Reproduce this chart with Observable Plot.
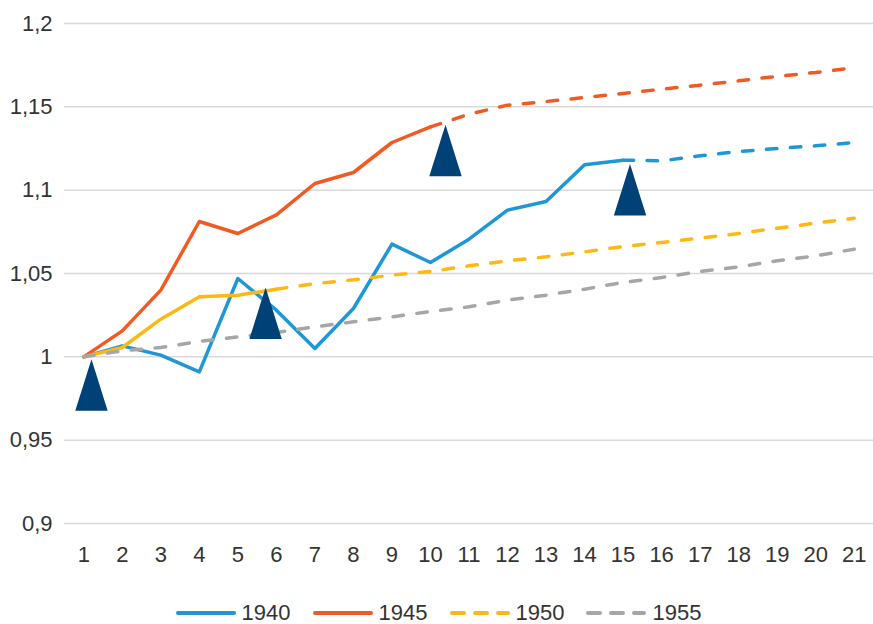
<!DOCTYPE html>
<html>
<head>
<meta charset="utf-8">
<script src="https://cdn.jsdelivr.net/npm/d3@7"></script>
<script src="https://cdn.jsdelivr.net/npm/@observablehq/plot@0.6"></script>
<style>
  html, body { margin: 0; padding: 0; background: #fff; }
  #chart { width: 873px; font-family: "Liberation Sans", Arial, sans-serif; }
  #legend { display: flex; justify-content: center; align-items: center; height: 24px; padding-top: 21px; padding-left: 4px;
            font-size: 22px; color: #333; line-height: 24px; }
  .item { display: flex; align-items: center; margin: 0 11px; }
  .item svg { margin-right: 6px; }
</style>
</head>
<body>
<div id="chart"></div>
<script>
const categories = [1, 2, 3, 4, 5, 6, 7, 8, 9, 10, 11, 12, 13, 14, 15, 16, 17, 18, 19, 20, 21];
const seriesNames = ["1940", "1945", "1950", "1955"];
const v1940 = [1.000, 1.0066, 1.001, 0.991, 1.047, 1.028, 1.005, 1.029, 1.0676, 1.0566, 1.0706, 1.088, 1.0932, 1.1152, 1.118, 1.1176, 1.1206, 1.1232, 1.125, 1.1266, 1.1286];
const v1945 = [1.000, 1.0156, 1.040, 1.0812, 1.074, 1.0852, 1.104, 1.1106, 1.1286, 1.138, 1.1456, 1.151, 1.1532, 1.1556, 1.158, 1.1606, 1.163, 1.1656, 1.1683, 1.1706, 1.1735];
const v1950 = [1.000, 1.0056, 1.0226, 1.036, 1.037, 1.0406, 1.044, 1.0462, 1.049, 1.0512, 1.0546, 1.0576, 1.060, 1.063, 1.0662, 1.0686, 1.0712, 1.074, 1.0772, 1.0802, 1.0832];
const v1955 = [1.000, 1.0036, 1.0056, 1.0092, 1.012, 1.0146, 1.018, 1.021, 1.024, 1.0272, 1.030, 1.034, 1.037, 1.0406, 1.0446, 1.0476, 1.0512, 1.054, 1.0576, 1.0606, 1.0646];
const solidUntil = [15, 10, 6, 1];
const yTicks = [0.9, 0.95, 1, 1.05, 1.1, 1.15, 1.2];
const markerX = [1.2, 5.72, 10.39, 15.18];
const markerY = [0.9986, 1.0416, 1.1393, 1.1157];

const colors = ["#1f97d4", "#f05a23", "#fdb813", "#a6a6a8"];
const values = [v1940, v1945, v1950, v1955];

const rows = seriesNames.flatMap((s, si) => categories.map((c, i) => ({series: s, x: c, y: values[si][i], solid: c <= solidUntil[si], dashed: c >= solidUntil[si]})));
const markers = markerX.map((x, i) => ({x, y: markerY[i]}));

const tallTriangle = {
  draw(context) {
    context.moveTo(0, 0);
    context.lineTo(16.2, 51.5);
    context.lineTo(-16.2, 51.5);
    context.closePath();
  }
};

const fmt = d => String(d).replace(".", ",");

const lineMarks = seriesNames.flatMap((s, si) => {
  const data = rows.filter(r => r.series === s);
  const out = [];
  const solid = data.filter(r => r.solid);
  if (solid.length > 1) out.push(Plot.line(solid, {x: "x", y: "y", stroke: colors[si], strokeWidth: 3.5, strokeLinejoin: "round", strokeLinecap: "round"}));
  out.push(Plot.line(data.filter(r => r.dashed), {x: "x", y: "y", stroke: colors[si], strokeWidth: 3.5, strokeDasharray: "10.5,13.5", strokeLinecap: "round", strokeLinejoin: "round"}));
  return out;
});

const plot = Plot.plot({
  width: 873,
  height: 580,
  marginTop: 23,
  marginBottom: 57,
  marginLeft: 64,
  marginRight: 0,
  style: {fontFamily: "'Liberation Sans', Arial, sans-serif", fontSize: "22px", color: "#333", background: "#fff"},
  x: {domain: [0.5, 21.5]},
  y: {domain: [0.9, 1.2]},
  marks: [
    Plot.ruleY(yTicks, {stroke: "#d9d9d9", strokeWidth: 1.5}),
    Plot.axisY({ticks: yTicks, tickSize: 0, tickPadding: 12, tickFormat: fmt, label: null, fontSize: 22}),
    Plot.axisX({ticks: categories, tickSize: 0, tickPadding: 23, tickFormat: d => String(d), label: null, fontSize: 22}),
    ...lineMarks,
    Plot.dot(markers, {x: "x", y: "y", symbol: tallTriangle, r: 10, fill: "#004178", stroke: "none"})
  ]
});

const chart = document.getElementById("chart");
chart.appendChild(plot);

const legend = document.createElement("div");
legend.id = "legend";
seriesNames.forEach((s, si) => {
  const item = document.createElement("div");
  item.className = "item";
  const dashed = si >= 2;
  item.innerHTML = `<svg width="60" height="8"><line x1="2" y1="4" x2="58" y2="4" stroke="${colors[si]}" stroke-width="4" stroke-linecap="round" ${dashed ? 'stroke-dasharray="12,11"' : ''}/></svg><span>${s}</span>`;
  legend.appendChild(item);
});
chart.appendChild(legend);
</script>
</body>
</html>
